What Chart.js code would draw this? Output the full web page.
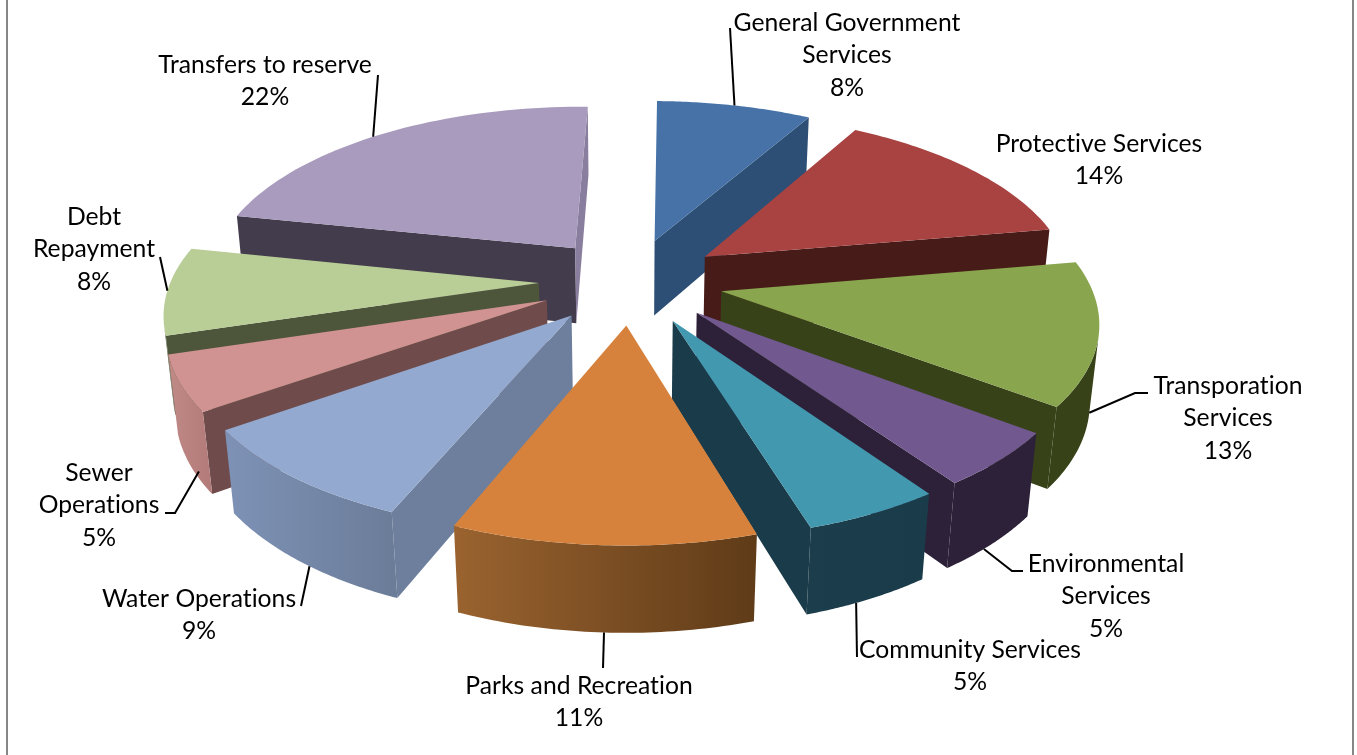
<!DOCTYPE html>
<html>
<head>
<meta charset="utf-8">
<title>Budget by service</title>
<script src="https://cdn.jsdelivr.net/npm/chart.js@4"></script>
<style>
    html, body { margin: 0; padding: 0; background: #fff; overflow: hidden; }
    #frame {
        position: absolute; left: 6px; top: 0; width: 1344px; height: 755px;
        border-left: 2px solid #868686; border-right: 2px solid #868686;
    }
    #chart { position: absolute; left: 0; top: 0; }
</style>
</head>
<body>
<div id="frame"></div>
<canvas id="chart" width="1357" height="755"></canvas>
<script>
const categories = [
    "General Government Services", "Protective Services", "Transporation Services",
    "Environmental Services", "Community Services", "Parks and Recreation",
    "Water Operations", "Sewer Operations", "Debt Repayment", "Transfers to reserve"
];
const percentages = [8, 14, 13, 5, 5, 11, 9, 5, 8, 22];

const faceColors = ["#4672A8", "#A84342", "#89A54E", "#71588F", "#4298AF", "#D7823C", "#93A9CF", "#D19392", "#B9CD96", "#A99BBD"];
const startWallColors = ["#2E4F75", "#471B18", "#374219", "#2D2139", "#1A3B49", "#5F3B18", "#6D7F9C", "#6F4C4B", "#4D563A", "#433C4C"];
const endWallColors = ["#2E4F75", "#471B18", "#374219", "#2D2139", "#1A3B49", "#5F3B18", "#6D7F9C", "#6F4C4B", "#4D563A", "#8A7E9E"];
const rimLeftColors = ["#2E4F75", "#471B18", "#374219", "#2D2139", "#1C3D4B", "#9A632F", "#7D92B6", "#C08A87", "#4D563A", "#433C4C"];
const rimRightColors = ["#2E4F75", "#471B18", "#374219", "#2D2139", "#1A3B49", "#5F3B18", "#6B7C98", "#B27A78", "#4D563A", "#433C4C"];

// text blocks: centre x and y of the first line, one entry per slice
const labelLines = [
    ["General Government", "Services"], ["Protective Services"], ["Transporation", "Services"],
    ["Environmental", "Services"], ["Community Services"], ["Parks and Recreation"],
    ["Water Operations"], ["Sewer", "Operations"], ["Debt", "Repayment"], ["Transfers to reserve"]
];
const labelCentres = [[847, 23], [1099, 144], [1228, 386], [1106, 564], [970, 650], [579, 686], [199, 599], [99, 473], [94, 217], [265, 65]];

// leader lines run from the text to a spot on the slice rim:
// along = share of the way through the slice, depth 0 = top face, 1 = bottom
const leaderStarts = [
    [[730, 28]], null, [[1148, 393], [1135, 393]], [[1023, 571], [1012, 571]], [[857, 657]],
    [[603, 668]], [[301, 606]], [[165, 513], [175, 513]], [[160, 257]], [[378, 75]]
];
const leaderAlong = [0.5, 0.5, 0.5, 0.6, 0.6, 0.5, 0.45, 0.25, 0.5, 0.48];
const leaderDepths = [0, 0, 1, 1, 1, 1, 1, 0.9, 0, 0];

const view = {
    stretchX: 1.31, stretchY: 0.612, perspective: 0.15, tilt: 0.02,
    depth: 78, explode: 0.25, rimSteps: 48
};

function project(arc, u, v, z) {
    const r = arc.outerRadius;
    const w = 1 - view.perspective * v + view.tilt * z;
    return {
        x: arc.x + r * view.stretchX * u / w,
        y: arc.y + (r * view.stretchY * v + view.depth * z) / w
    };
}

// point on a slice, with its offset along the middle angle already applied
function slicePoint(arc, angle, radius, z) {
    const mid = (arc.startAngle + arc.endAngle) / 2;
    const u = radius * Math.cos(angle) + view.explode * Math.cos(mid);
    const v = radius * Math.sin(angle) + view.explode * Math.sin(mid);
    return project(arc, u, v, z);
}

function fillPolygon(ctx, points, fill) {
    ctx.beginPath();
    points.forEach((p, i) => i ? ctx.lineTo(p.x, p.y) : ctx.moveTo(p.x, p.y));
    ctx.closePath();
    ctx.fillStyle = fill;
    ctx.fill();
}

function signedArea(points) {
    let area = 0;
    points.forEach((p, i) => {
        const q = points[(i + 1) % points.length];
        area += p.x * q.y - q.x * p.y;
    });
    return area / 2;
}

function drawSlice(ctx, arc, i) {
    const a0 = arc.startAngle, a1 = arc.endAngle;

    // radial walls, only when they turn towards the viewer
    const startWall = [slicePoint(arc, a0, 0, 0), slicePoint(arc, a0, 1, 0), slicePoint(arc, a0, 1, 1), slicePoint(arc, a0, 0, 1)];
    const endWall = [slicePoint(arc, a1, 1, 0), slicePoint(arc, a1, 0, 0), slicePoint(arc, a1, 0, 1), slicePoint(arc, a1, 1, 1)];
    if (signedArea(startWall) < 0) fillPolygon(ctx, startWall, startWallColors[i]);
    if (signedArea(endWall) < 0) fillPolygon(ctx, endWall, endWallColors[i]);

    // curved outer wall, kept to the part that faces the viewer
    const top = [], bottom = [];
    for (let s = 0; s < view.rimSteps; s++) {
        const t0 = a0 + (a1 - a0) * s / view.rimSteps;
        const t1 = a0 + (a1 - a0) * (s + 1) / view.rimSteps;
        const quad = [slicePoint(arc, t0, 1, 0), slicePoint(arc, t1, 1, 0), slicePoint(arc, t1, 1, 1), slicePoint(arc, t0, 1, 1)];
        if (signedArea(quad) < 0) {
            if (!top.length) { top.push(quad[0]); bottom.push(quad[3]); }
            top.push(quad[1]);
            bottom.push(quad[2]);
        }
    }
    if (top.length) {
        const xs = top.concat(bottom).map((p) => p.x);
        const grad = ctx.createLinearGradient(Math.min(...xs), 0, Math.max(...xs), 0);
        grad.addColorStop(0, rimLeftColors[i]);
        grad.addColorStop(1, rimRightColors[i]);
        fillPolygon(ctx, top.concat(bottom.reverse()), grad);
    }

    // top face
    const face = [slicePoint(arc, a0, 0, 0)];
    for (let s = 0; s <= view.rimSteps; s++) {
        face.push(slicePoint(arc, a0 + (a1 - a0) * s / view.rimSteps, 1, 0));
    }
    fillPolygon(ctx, face, faceColors[i]);
}

function drawLabels(ctx, arcs) {
    ctx.strokeStyle = "#000";
    ctx.lineWidth = 2;
    leaderStarts.forEach((start, i) => {
        if (!start) return;
        const arc = arcs[i];
        const angle = arc.startAngle + (arc.endAngle - arc.startAngle) * leaderAlong[i];
        const end = slicePoint(arc, angle, 1, leaderDepths[i]);
        ctx.beginPath();
        start.forEach((p, n) => n ? ctx.lineTo(p[0], p[1]) : ctx.moveTo(p[0], p[1]));
        ctx.lineTo(end.x, end.y);
        ctx.stroke();
    });

    ctx.fillStyle = "#000";
    ctx.font = "24.7px Lato";
    ctx.letterSpacing = "0.02px"; // keeps "ti" from joining into a ligature
    ctx.textAlign = "center";
    ctx.textBaseline = "middle";
    labelLines.forEach((lines, i) => {
        const [x, y] = labelCentres[i];
        lines.concat(percentages[i] + "%").forEach((text, n) => {
            ctx.fillText(text, x, y + n * 32.5);
        });
    });
}

const extrudedPie = {
    id: "extrudedPie",
    beforeDatasetDraw() {
        return false;
    },
    afterDatasetsDraw(chart) {
        const ctx = chart.ctx;
        const arcs = chart.getDatasetMeta(0).data;
        // far slices first, so the nearer ones paint over them
        const order = arcs.map((arc, i) => i).sort((a, b) => {
            const mid = (arc) => Math.sin((arc.startAngle + arc.endAngle) / 2);
            return mid(arcs[a]) - mid(arcs[b]);
        });
        order.forEach((i) => drawSlice(ctx, arcs[i], i));
        drawLabels(ctx, arcs);
    }
};

new Chart(document.getElementById("chart"), {
    type: "pie",
    data: {
        labels: categories,
        datasets: [{ data: percentages, backgroundColor: faceColors, borderWidth: 0 }]
    },
    options: {
        responsive: false,
        animation: false,
        rotation: 1,
        layout: { padding: { right: 95, bottom: 193 } },
        plugins: { legend: { display: false }, tooltip: { enabled: false } }
    },
    plugins: [extrudedPie]
});
</script>
</body>
</html>
